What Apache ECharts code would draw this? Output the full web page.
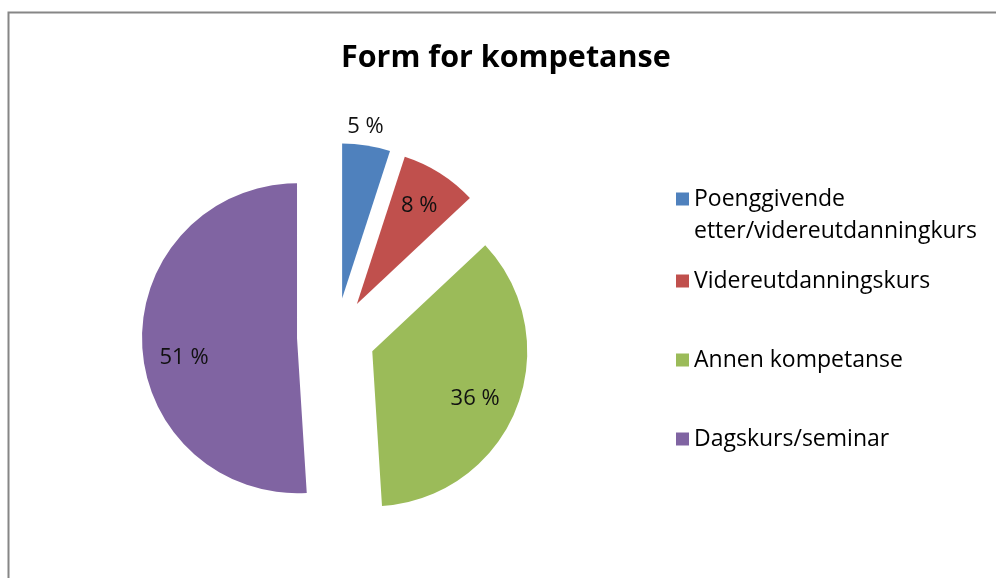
<!DOCTYPE html>
<html>
<head>
<meta charset="utf-8">
<script src="https://cdn.jsdelivr.net/npm/echarts@6/dist/echarts.min.js"></script>
<style>
html, body { margin: 0; padding: 0; background: #fff; }
#chart { width: 996px; height: 578px; }
</style>
</head>
<body>
<div id="chart"></div>
<script>
var categories = ['Poenggivende etter/videreutdanningkurs', 'Videreutdanningskurs', 'Annen kompetanse', 'Dagskurs/seminar'];
// leading blank line keeps the icon level with the first text line
var legendLabels = ['\nPoenggivende\netter/videreutdanningkurs', 'Videreutdanningskurs', 'Annen kompetanse', 'Dagskurs/seminar'];
var values = [5, 8, 36, 51];
var colors = ['#4f81bd', '#c0504d', '#9bbb59', '#8064a2'];

// label placement: share of radius from the slice tip, and a small turn in degrees
var labelRadius = [1.1, 0.73, 0.71, 0.72];
var labelTurn = [-1.3, 0, 3, -8];
var legendTops = [151, 265, 344, 423];

var R = 155;
var total = values.reduce(function (a, b) { return a + b; }, 0);
var acc = 0;
var labelShift = [];
var pieData = values.map(function (v, i) {
    var mid = (acc + v / 2) / total * 2 * Math.PI;
    acc += v;
    var t = mid + labelTurn[i] * Math.PI / 180;
    var k = labelRadius[i] * R;
    var h = 0.5 * R;
    // shift from the default spot (half radius on mid angle) to the wanted one
    labelShift.push([
        k * Math.sin(t) - h * Math.sin(mid),
        -k * Math.cos(t) + h * Math.cos(mid)
    ]);
    return {
        name: categories[i],
        value: v,
        selected: true,
        itemStyle: { color: colors[i] }
    };
});

var legends = categories.map(function (name, i) {
    return {
        orient: 'vertical',
        left: 676,
        top: legendTops[i],
        padding: 0,
        icon: 'rect',
        itemWidth: 13,
        itemHeight: 13,
        itemGap: 0,
        selectedMode: false,
        data: [name],
        formatter: function () { return legendLabels[i]; },
        textStyle: {
            fontFamily: 'Open Sans',
            fontSize: 23,
            color: '#000',
            lineHeight: 32
        }
    };
});

var chart = echarts.init(document.getElementById('chart'), null, { renderer: 'canvas' });
chart.setOption({
    backgroundColor: '#fff',
    animation: false,
    title: {
        text: 'Form for kompetanse',
        left: 341,
        top: 43,
        padding: 0,
        textStyle: { fontFamily: 'Open Sans', fontSize: 30.5, fontWeight: 'bold', color: '#000' }
    },
    legend: legends,
    graphic: [{
        type: 'rect',
        shape: { x: 8.5, y: 12.5, width: 1000, height: 600 },
        style: { fill: null, stroke: '#868686', lineWidth: 2 },
        silent: true
    }],
    series: [{
        type: 'pie',
        center: [336, 337],
        radius: R,
        startAngle: 90,
        clockwise: true,
        selectedMode: 'multiple',
        selectedOffset: 39,
        emphasis: { disabled: true },
        label: {
            show: true,
            position: 'inside',
            formatter: function (p) { return p.value + ' %'; },
            fontFamily: 'Open Sans',
            fontSize: 22,
            color: '#111'
        },
        labelLayout: function (params) {
            var s = labelShift[params.dataIndex];
            return { dx: s[0], dy: s[1] };
        },
        labelLine: { show: false },
        itemStyle: { borderWidth: 0 },
        data: pieData
    }]
});
</script>
</body>
</html>
